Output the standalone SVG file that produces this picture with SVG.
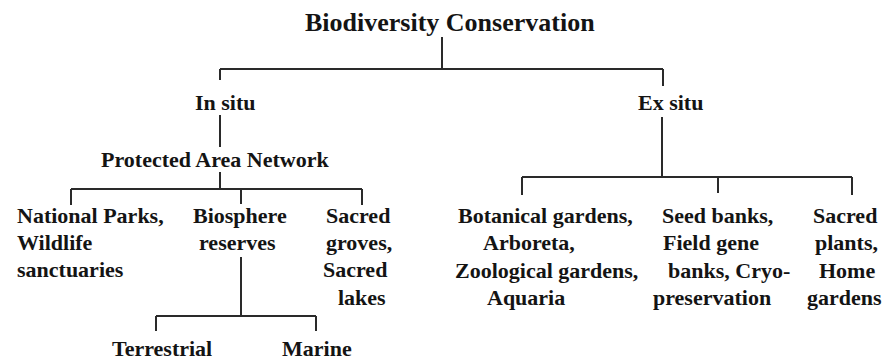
<svg xmlns="http://www.w3.org/2000/svg" width="885" height="360" viewBox="0 0 885 360">
<style>
text{font-family:"Liberation Serif","Times New Roman",serif;font-weight:bold;font-size:22px;fill:#141414}
.title{font-size:26px}
#connectors path{stroke:#2a2a2a;stroke-width:2;fill:none}
</style>
<rect width="885" height="360" fill="#fff"/>
<g id="connectors">
<path d="M442 37V69M220 69H663M220 69V80M663 69V86"/>
<path d="M220 115V147M220 172V189M71 189H362M71 189V205M241 189V204M362 189V205"/>
<path d="M241 257V316M156 316H316M156 316V331M316 316V331"/>
<path d="M662 117V177M522 177H852M522 177V195M718 177V193M852 177V195"/>
</g>
<g id="n-root"><text class="title" x="305" y="31">Biodiversity Conservation</text></g>
<g id="n-insitu"><text x="195" y="110">In situ</text></g>
<g id="n-exsitu"><text x="638" y="110">Ex situ</text></g>
<g id="n-pan"><text x="101" y="167">Protected Area Network</text></g>
<g id="n-parks"><text x="17" y="223">National Parks,</text><text x="17" y="250">Wildlife</text><text x="17" y="277">sanctuaries</text></g>
<g id="n-biosphere"><text x="193" y="223">Biosphere</text><text x="199" y="250">reserves</text></g>
<g id="n-groves"><text x="326" y="223">Sacred</text><text x="326" y="250">groves,</text><text x="323" y="277">Sacred</text><text x="338" y="305">lakes</text></g>
<g id="n-terrestrial"><text x="112" y="356">Terrestrial</text></g>
<g id="n-marine"><text x="282" y="356">Marine</text></g>
<g id="n-botanical"><text x="458" y="223">Botanical gardens,</text><text x="483" y="250">Arboreta,</text><text x="455" y="278">Zoological gardens,</text><text x="487" y="305">Aquaria</text></g>
<g id="n-seedbanks"><text x="662" y="223">Seed banks,</text><text x="663" y="250">Field gene</text><text x="668" y="278">banks, Cryo-</text><text x="653" y="305">preservation</text></g>
<g id="n-sacredplants"><text x="813" y="223">Sacred</text><text x="815" y="250">plants,</text><text x="819" y="278">Home</text><text x="807" y="305">gardens</text></g>
</svg>
